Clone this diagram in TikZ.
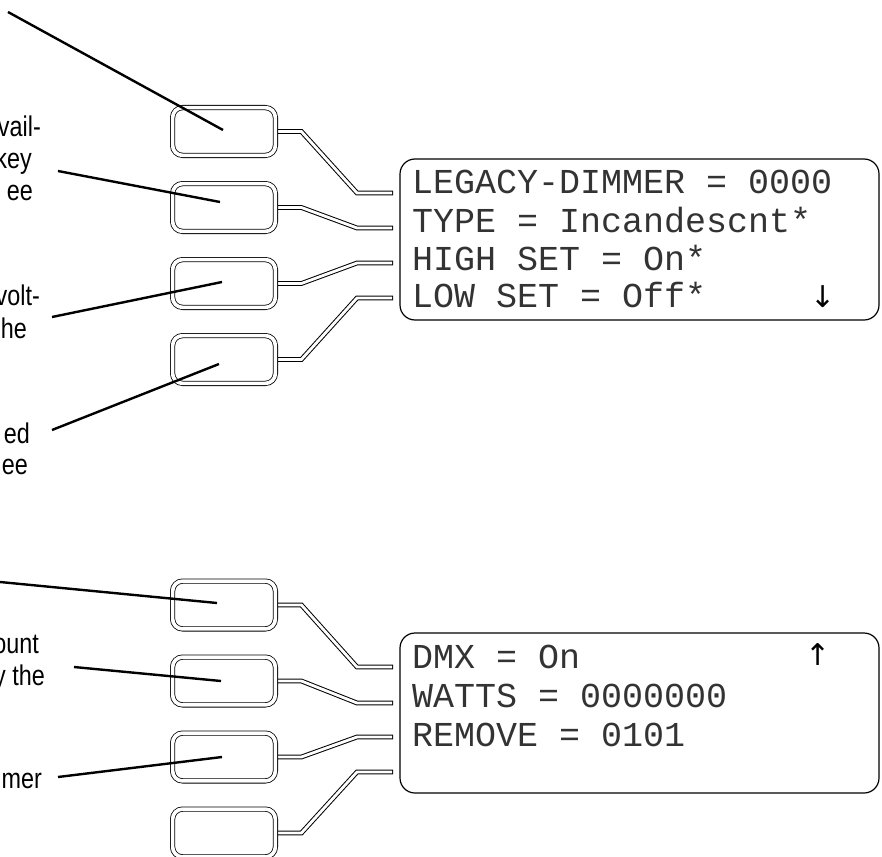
\documentclass[tikz,border=0pt]{standalone}
\usepackage{fontspec}
\usepackage{tikz}
\usetikzlibrary{positioning,calc,backgrounds}
\newfontfamily\lblfont{Liberation Sans}
\newfontfamily\lcdfont{Liberation Mono}
\newfontfamily\symfont{DejaVu Sans}
\newcommand\squeeze[1]{\scalebox{0.82}[1]{#1}}

\begin{document}
\begin{tikzpicture}[x=1pt,y=-1pt]
\tikzset{btn/.style={draw=black,line width=0.8pt,double=white,double distance=3.6pt,rounded corners=10pt,minimum width=102.8pt,minimum height=47.8pt,inner sep=0,outer sep=0},
  disp/.style={draw=black,line width=1.2pt,rounded corners=15pt,minimum width=479pt,inner sep=0},
  wire/.style={white,line width=2.8pt,shorten >=0.9pt,preaction={draw=black,line width=4.8pt,shorten >=0pt}},
  lead/.style={line width=2.4pt},
  frag/.style={anchor=base east,inner sep=0,font=\lblfont\fontsize{28.5}{32}\selectfont},
  lcd/.style={anchor=base west,inner sep=0,text=black!80,font=\lcdfont\fontsize{35}{38}\selectfont},
  arr/.style={inner sep=0,font=\symfont\fontsize{30}{30}\selectfont}}
\useasboundingbox (0,0) rectangle (882,856);
\clip (0,0) rectangle (882,856);
% push buttons, upper menu page
\node[btn] (b1) at (224,131.5) {};
\node[btn,below=28.2pt of b1] (b2) {};
\node[btn,below=28.2pt of b2] (b3) {};
\node[btn,below=28.2pt of b3] (b4) {};
% push buttons, lower menu page
\node[btn] (b5) at (224,605) {};
\node[btn,below=28.2pt of b5] (b6) {};
\node[btn,below=28.2pt of b6] (b7) {};
\node[btn,below=28.2pt of b7] (b8) {};
% displays
\node[disp,minimum height=161pt] (d1) at (639.5,239.5) {};
\node[disp,minimum height=160pt] (d2) at (639.5,713) {};
\coordinate (p1) at (393,193); \coordinate (p2) at (393,228);
\coordinate (p3) at (393,263); \coordinate (p4) at (393,298);
\coordinate (p5) at (393,667); \coordinate (p6) at (393,703);
\coordinate (p7) at (393,737); \coordinate (p8) at (393,772);
\begin{scope}[on background layer]
\draw[wire] (b1.east) -- ++(26,0) -- ([xshift=-36pt]p1) -- (p1);
\draw[wire] (b2.east) -- ++(26,0) -- ([xshift=-36pt]p2) -- (p2);
\draw[wire] (b3.east) -- ++(26,0) -- ([xshift=-36pt]p3) -- (p3);
\draw[wire] (b4.east) -- ++(26,0) -- ([xshift=-36pt]p4) -- (p4);
\draw[wire] (b5.east) -- ++(26,0) -- ([xshift=-36pt]p5) -- (p5);
\draw[wire] (b6.east) -- ++(26,0) -- ([xshift=-36pt]p6) -- (p6);
\draw[wire] (b7.east) -- ++(26,0) -- ([xshift=-36pt]p7) -- (p7);
\draw[wire] (b8.east) -- ++(26,0) -- ([xshift=-36pt]p8) -- (p8);
\end{scope}
% display texts
\node[lcd] (l1) at (412,193) {LEGACY-DIMMER = 0000};
\node[lcd] (l2) at (412,232) {TYPE = Incandescnt*};
\node[lcd] (l3) at (412,270) {HIGH SET = On*};
\node[lcd] (l4) at (412,307) {LOW SET = Off*};
\node[arr] (dn) at (823,297) {↓};
\node[lcd] (l5) at (412,668) {DMX = On};
\node[lcd] (l6) at (412,707) {WATTS = 0000000};
\node[lcd] (l7) at (412,746) {REMOVE = 0101};
\node[arr] (up) at (818,655) {↑};
% callout texts (cut at the left edge)
\node[frag] (f1) at (41,136) {\squeeze{vail-}};
\node[frag] (f2) at (32,168) {\squeeze{key}};
\node[frag] (f3) at (33,200) {\squeeze{ee}};
\node[frag] (f4) at (40,305) {\squeeze{volt-}};
\node[frag] (f5) at (27,338) {\squeeze{he}};
\node[frag] (f6) at (30,443) {\squeeze{ed}};
\node[frag] (f7) at (28,474) {\squeeze{ee}};
\node[frag] (f8) at (39,653) {\squeeze{ount}};
\node[frag] (f9) at (45,685) {\squeeze{y the}};
\node[frag] (f10) at (42,788) {\squeeze{mer}};
% leader lines
\coordinate (s1) at (8,12);     \coordinate (e1) at (223,130);
\coordinate (s2) at (58,171);   \coordinate (e2) at (220,202);
\coordinate (s3) at (52,317);   \coordinate (e3) at (222,282);
\coordinate (s4) at (52,430);   \coordinate (e4) at (219,364);
\coordinate (s5) at (-4,581.6); \coordinate (e5) at (217,603);
\coordinate (s6) at (74,667);   \coordinate (e6) at (221,681);
\coordinate (s7) at (58,777);   \coordinate (e7) at (222,757);
\draw[lead] (s1)--(e1); \draw[lead] (s2)--(e2); \draw[lead] (s3)--(e3);
\draw[lead] (s4)--(e4); \draw[lead] (s5)--(e5); \draw[lead] (s6)--(e6);
\draw[lead] (s7)--(e7);
\end{tikzpicture}
\end{document}
